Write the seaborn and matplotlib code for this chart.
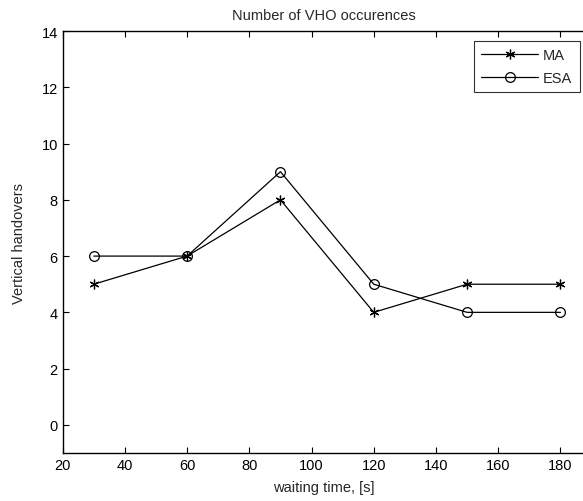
import matplotlib
matplotlib.use("Agg")
import matplotlib.pyplot as plt
import seaborn as sns
import pandas as pd

waiting_time = [30, 60, 90, 120, 150, 180]
ma_values = [5, 6, 8, 4, 5, 5]
esa_values = [6, 6, 9, 5, 4, 4]
x_ticks = [20, 40, 60, 80, 100, 120, 140, 160, 180]
y_ticks = [0, 2, 4, 6, 8, 10, 12, 14]

sns.set_theme(style="ticks")
plt.rcParams['font.family'] = ['Liberation Sans', 'DejaVu Sans']

df = pd.DataFrame({
    "t": waiting_time * 2,
    "v": ma_values + esa_values,
    "s": ["MA"] * len(ma_values) + ["ESA"] * len(esa_values),
})

fig = plt.figure(figsize=(5.83, 5.02), dpi=100)
ax = fig.add_axes([0.1075, 0.0956, 0.8959, 0.8406])

sns.lineplot(data=df[df.s == "MA"], x="t", y="v", ax=ax, color="black",
             marker=(6, 2, 0), markersize=7, markeredgewidth=0.9, linewidth=0.9,
             label="MA", markeredgecolor="black")
sns.lineplot(data=df[df.s == "ESA"], x="t", y="v", ax=ax, color="black",
             marker="o", markersize=7, markerfacecolor="none", markeredgecolor="black",
             markeredgewidth=0.9, linewidth=0.9, label="ESA")

ax.set_xlim(20, 187.9)
ax.set_ylim(-1, 14)
ax.set_xticks(x_ticks)
ax.set_yticks(y_ticks)
ax.tick_params(direction="in", length=4, width=0.8, labelsize=10.5, top=True, right=False, colors="black")
for s in ax.spines.values():
    s.set_linewidth(1.0)
    s.set_color("black")
ax.set_xlabel("waiting time, [s]", fontsize=10.5, labelpad=6)
ax.set_ylabel("Vertical handovers", fontsize=10.5, labelpad=11)
ax.set_title("Number of VHO occurences", fontsize=10.5, pad=9)

leg = ax.legend(loc="upper right", bbox_to_anchor=(0.990, 0.976), borderaxespad=0,
                frameon=True, fancybox=False, edgecolor="black", fontsize=10.5,
                handlelength=3.9, borderpad=0.5, labelspacing=0.6, handletextpad=0.35)
leg.get_frame().set_linewidth(0.8)

fig.savefig("out.png", dpi=100)
